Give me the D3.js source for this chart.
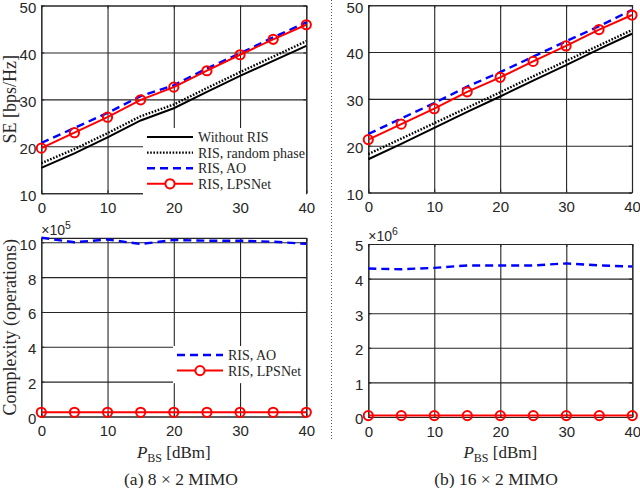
<!DOCTYPE html>
<html>
<head>
<meta charset="utf-8">
<script src="https://cdn.jsdelivr.net/npm/d3@7"></script>
<style>
  body { margin: 0; background: #fff; }
  text { fill: #262626; }
</style>
</head>
<body>
<script>
// x values (BS power in dBm) and tick values
const power = [0, 5, 10, 15, 20, 25, 30, 35, 40];
const xTicks = [0, 10, 20, 30, 40];
const seTicks = [10, 20, 30, 40, 50];
const cx8Ticks = [0, 2, 4, 6, 8, 10];
const cx16Ticks = [0, 1, 2, 3, 4, 5];

// (a) 8x2 MIMO, spectral efficiency
const se8NoRis  = [15.4, 18.5, 21.9, 25.5, 28.1, 31.6, 35.0, 38.2, 41.4];
const se8Random = [16.4, 19.4, 22.8, 26.4, 28.9, 32.4, 35.8, 39.1, 42.4];
const se8Ao     = [20.7, 23.9, 27.1, 30.7, 33.0, 36.6, 39.8, 43.2, 46.4];
const se8Lps    = [19.6, 22.9, 26.2, 29.9, 32.6, 36.1, 39.5, 42.8, 45.9];

// (b) 16x2 MIMO, spectral efficiency
const se16NoRis  = [17.1, 20.4, 23.8, 27.2, 30.5, 33.9, 37.2, 40.6, 43.9];
const se16Random = [18.2, 21.5, 24.8, 28.1, 31.4, 34.8, 38.1, 41.4, 44.7];
const se16Ao     = [22.5, 25.8, 29.1, 32.6, 35.7, 39.0, 42.3, 45.5, 49.0];
const se16Lps    = [21.3, 24.6, 27.9, 31.5, 34.6, 38.0, 41.3, 44.8, 47.9];

// complexity, (a) in units of 1e5, (b) in units of 1e6
const cx8Ao   = [10.26, 10.0, 10.16, 9.9, 10.13, 10.09, 10.09, 10.03, 9.91];
const cx8Lps  = [0.24, 0.24, 0.24, 0.24, 0.24, 0.24, 0.24, 0.24, 0.24];
const cx16Ao  = [4.29, 4.27, 4.31, 4.38, 4.38, 4.38, 4.44, 4.38, 4.35];
const cx16Lps = [0.04, 0.04, 0.04, 0.04, 0.04, 0.04, 0.04, 0.04, 0.04];

// line styles for the four methods
const styles = {
  noRis:  {name: 'Without RIS',       color: '#000', width: 2,   dash: null},
  random: {name: 'RIS, random phase', color: '#000', width: 2.4, dash: '1.6,1.6'},
  ao:     {name: 'RIS, AO',           color: '#0000ff', width: 2.4, dash: '8,5'},
  lps:    {name: 'RIS, LPSNet',       color: '#ff0000', width: 2, dash: null, marker: true}
};

const svg = d3.select('body').append('svg')
  .attr('width', 640)
  .attr('height', 488);

const tickFont = 'Liberation Sans, Arial, sans-serif';
const serif = 'Liberation Serif, Times New Roman, serif';

function drawPanel(o) {
  const x = d3.scaleLinear().domain([0, 40]).range([o.x0, o.x1]);
  const y = d3.scaleLinear().domain(o.yDomain).range([o.y1, o.y0]);
  const w = o.x1 - o.x0, h = o.y1 - o.y0;
  const g = svg.append('g');

  // grid
  g.append('g')
    .attr('transform', `translate(0,${o.y1})`)
    .call(d3.axisBottom(x).tickValues(xTicks).tickSize(-h).tickFormat(''))
    .call(a => a.select('.domain').remove())
    .selectAll('line').attr('stroke', '#e4e4e4');
  g.append('g')
    .attr('transform', `translate(${o.x0},0)`)
    .call(d3.axisLeft(y).tickValues(o.yTicks).tickSize(-w).tickFormat(''))
    .call(a => a.select('.domain').remove())
    .selectAll('line').attr('stroke', '#e4e4e4');

  // axes with inward ticks on all four sides
  const fmt = d3.format('d');
  const bottom = g.append('g')
    .attr('transform', `translate(0,${o.y1})`)
    .call(d3.axisBottom(x).tickValues(xTicks).tickFormat(fmt)
      .tickSizeInner(-3).tickSizeOuter(0).tickPadding(9));
  const left = g.append('g')
    .attr('transform', `translate(${o.x0},0)`)
    .call(d3.axisLeft(y).tickValues(o.yTicks).tickFormat(fmt)
      .tickSizeInner(-3).tickSizeOuter(0).tickPadding(5));
  g.append('g')
    .attr('transform', `translate(0,${o.y0})`)
    .call(d3.axisTop(x).tickValues(xTicks).tickSizeInner(-3).tickSizeOuter(0).tickFormat(''));
  g.append('g')
    .attr('transform', `translate(${o.x1},0)`)
    .call(d3.axisRight(y).tickValues(o.yTicks).tickSizeInner(-3).tickSizeOuter(0).tickFormat(''));
  g.selectAll('.domain, .tick line').attr('stroke', '#262626').attr('stroke-width', 1.1);
  [bottom, left].forEach(a => a.selectAll('text')
    .style('font-family', tickFont).style('font-size', '15px').attr('fill', '#262626'));
  left.selectAll('text').attr('dy', '0.46em');

  // series
  const line = d3.line().x((d, i) => x(power[i])).y(d => y(d));
  o.series.forEach(s => {
    const st = styles[s.key];
    g.append('path')
      .datum(s.values)
      .attr('d', line)
      .attr('fill', 'none')
      .attr('stroke', st.color)
      .attr('stroke-width', st.width)
      .attr('stroke-dasharray', st.dash);
    if (st.marker) {
      g.append('g').selectAll('circle')
        .data(s.values)
        .join('circle')
        .attr('cx', (d, i) => x(power[i]))
        .attr('cy', d => y(d))
        .attr('r', 4.6)
        .attr('fill', 'none')
        .attr('stroke', st.color)
        .attr('stroke-width', 2);
    }
  });

  // legend
  if (o.legend) {
    const L = o.legend;
    const keys = o.series.map(s => s.key);
    g.append('rect')
      .attr('x', L.x).attr('y', L.y)
      .attr('width', L.w).attr('height', keys.length * 15.6 + 6)
      .attr('fill', '#fff');
    const rows = g.append('g').selectAll('g')
      .data(keys)
      .join('g')
      .attr('transform', (d, i) => `translate(${L.x + 4},${L.y + 9 + i * 15.6})`);
    rows.append('line')
      .attr('x1', 0).attr('x2', 46)
      .attr('stroke', d => styles[d].color)
      .attr('stroke-width', d => styles[d].width)
      .attr('stroke-dasharray', d => styles[d].dash);
    rows.filter(d => styles[d].marker).append('circle')
      .attr('cx', 23).attr('r', 4.6)
      .attr('fill', '#fff')
      .attr('stroke', d => styles[d].color)
      .attr('stroke-width', 2);
    rows.append('text')
      .attr('x', 51).attr('y', 5)
      .style('font-family', serif).style('font-size', '14px')
      .attr('fill', '#000')
      .text(d => styles[d].name);
  }

  // exponent label
  if (o.exponent) {
    const t = g.append('text')
      .attr('x', o.x0).attr('y', o.y0 - 3)
      .style('font-family', tickFont).style('font-size', '14px');
    t.append('tspan').text('\u00d710');
    t.append('tspan').attr('dy', -6).style('font-size', '10.5px').text(o.exponent);
  }

  // y label
  if (o.yLabel) {
    svg.append('text')
      .attr('transform', `translate(16,${(o.y0 + o.y1) / 2}) rotate(-90)`)
      .attr('text-anchor', 'middle')
      .style('font-family', serif).style('font-size', '18px')
      .text(o.yLabel);
  }

  // x label with subscript
  if (o.xLabel) {
    const t = svg.append('text')
      .attr('x', (o.x0 + o.x1) / 2).attr('y', 458)
      .attr('text-anchor', 'middle')
      .style('font-family', serif).style('font-size', '17px');
    t.append('tspan').style('font-style', 'italic').text('P');
    t.append('tspan').attr('dy', 3.5).style('font-size', '12px').text('BS');
    t.append('tspan').attr('dy', -3.5).text(' [dBm]');
  }
}

drawPanel({
  x0: 41.3, x1: 306.3, y0: 5.5, y1: 193.2, yDomain: [10, 50], yTicks: seTicks,
  yLabel: 'SE [bps/Hz]',
  series: [
    {key: 'noRis', values: se8NoRis}, {key: 'random', values: se8Random},
    {key: 'ao', values: se8Ao}, {key: 'lps', values: se8Lps}
  ],
  legend: {x: 143, y: 128, w: 163}
});
drawPanel({
  x0: 368.3, x1: 632, y0: 5.2, y1: 192.5, yDomain: [10, 50], yTicks: seTicks,
  series: [
    {key: 'noRis', values: se16NoRis}, {key: 'random', values: se16Random},
    {key: 'ao', values: se16Ao}, {key: 'lps', values: se16Lps}
  ]
});
drawPanel({
  x0: 41.3, x1: 306.3, y0: 237.9, y1: 416.5, yDomain: [0, 10.25], yTicks: cx8Ticks,
  yLabel: 'Complexity (operations)', exponent: '5', xLabel: true,
  series: [{key: 'ao', values: cx8Ao}, {key: 'lps', values: cx8Lps}],
  legend: {x: 173, y: 346, w: 133}
});
drawPanel({
  x0: 368.3, x1: 632.3, y0: 244, y1: 417, yDomain: [0, 5], yTicks: cx16Ticks,
  exponent: '6', xLabel: true,
  series: [{key: 'ao', values: cx16Ao}, {key: 'lps', values: cx16Lps}]
});

// dotted separator between (a) and (b)
svg.append('line')
  .attr('x1', 331.5).attr('x2', 331.5)
  .attr('y1', 0).attr('y2', 440)
  .attr('stroke', '#555')
  .attr('stroke-width', 1)
  .attr('stroke-dasharray', '1,2');

// sub-figure captions
svg.selectAll('.caption')
  .data([{x: 181, t: '(a) 8 \u00d7 2 MIMO'}, {x: 496, t: '(b) 16 \u00d7 2 MIMO'}])
  .join('text')
  .attr('class', 'caption')
  .attr('x', d => d.x).attr('y', 485)
  .attr('text-anchor', 'middle')
  .style('font-family', serif).style('font-size', '17.5px')
  .attr('fill', '#000')
  .text(d => d.t);
</script>
</body>
</html>
